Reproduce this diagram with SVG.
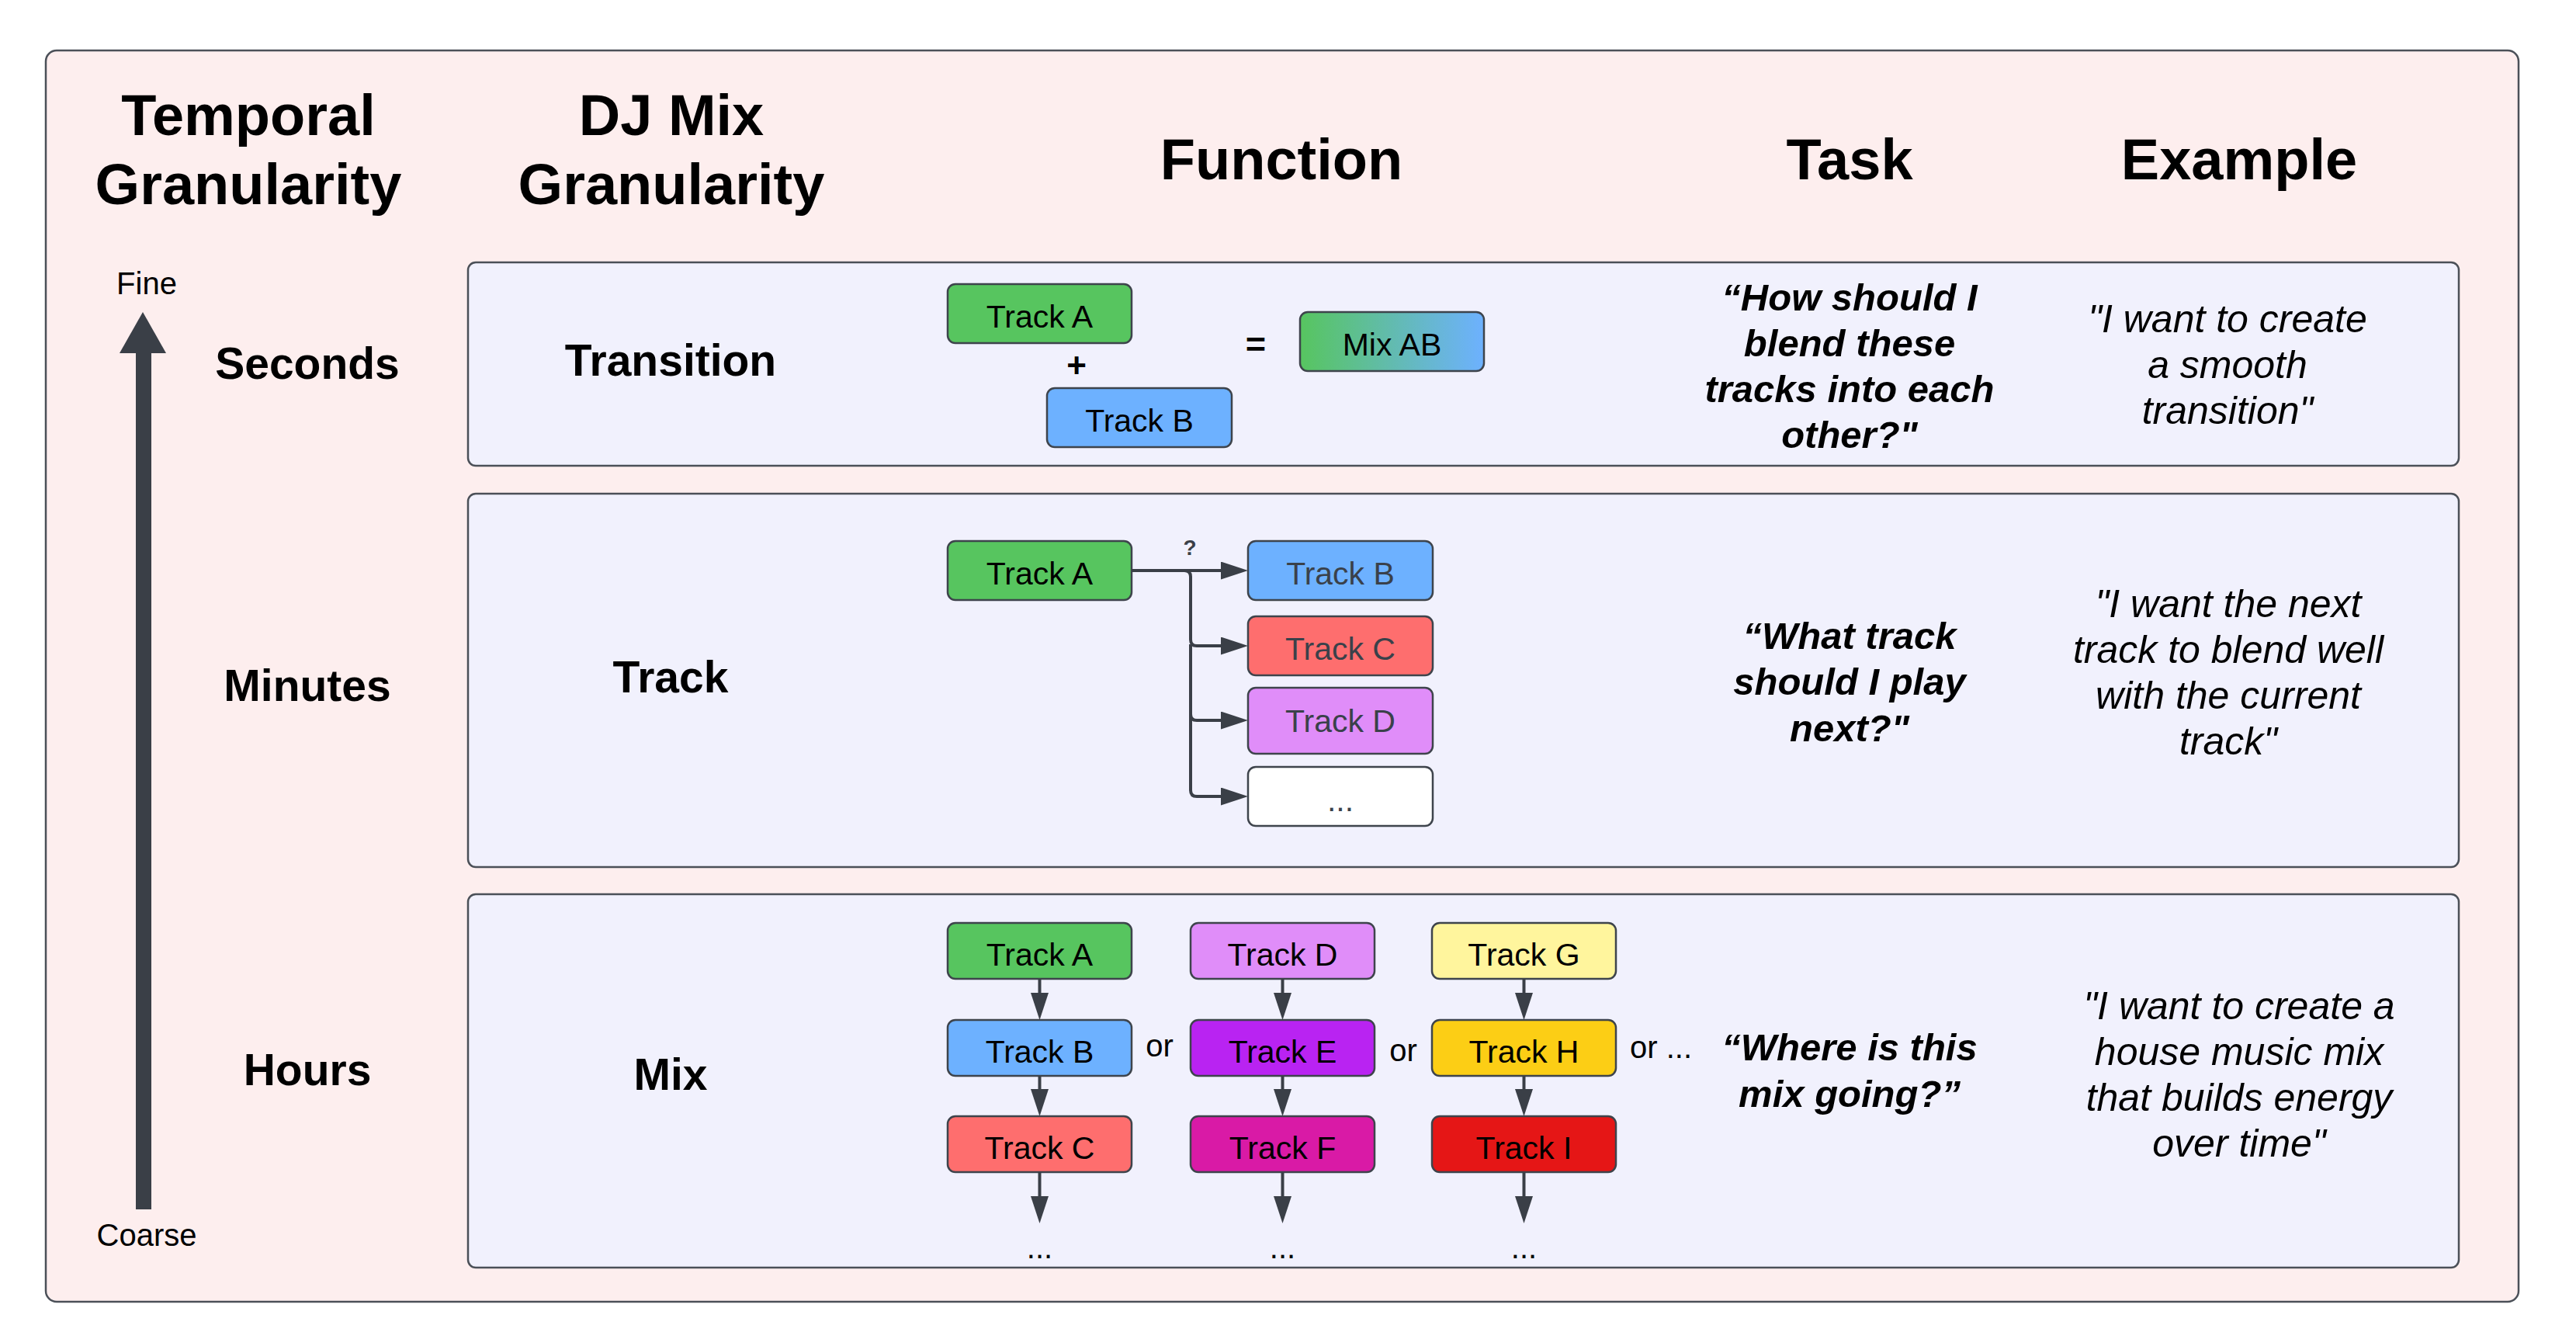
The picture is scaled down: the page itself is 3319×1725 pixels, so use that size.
<svg xmlns="http://www.w3.org/2000/svg" width="3319" height="1725" viewBox="0 0 3319 1725">
<style>
text{font-family:"Liberation Sans",Arial,sans-serif;text-anchor:middle;fill:#000}
.hdr{font-size:74px;font-weight:bold}
.row{font-size:57px;font-weight:bold}
.tk{font-size:41px}
.tkg{font-size:41px;fill:#3a414a}
.task{font-size:49px;font-weight:bold;font-style:italic}
.ex{font-size:50px;font-style:italic}
.small{font-size:40px}
.box{stroke:#3e444c;stroke-width:2.5}
.panel{fill:#f1f1fd;stroke:#4b5058;stroke-width:2.5}
.conn{fill:none;stroke:#3a3f47;stroke-width:4}
</style>
<defs>
<marker id="ah" viewBox="0 0 35 23" refX="0" refY="11.5" markerWidth="35" markerHeight="23" markerUnits="userSpaceOnUse" orient="auto">
<path d="M0,0 L35,11.5 L0,23 z" fill="#3a3f47"/>
</marker>
<linearGradient id="gAB" x1="0" y1="0" x2="1" y2="0">
<stop offset="0" stop-color="#57c55f"/>
<stop offset="1" stop-color="#6db1ff"/>
</linearGradient>
</defs>

<g id="frame">
<rect x="59" y="65" width="3186" height="1612" rx="14" fill="#fdeeee" stroke="#4b5058" stroke-width="2.5"/>
</g>

<g id="headers">
<text class="hdr" x="320" y="174">Temporal</text>
<text class="hdr" x="320" y="263">Granularity</text>
<text class="hdr" x="865" y="174">DJ Mix</text>
<text class="hdr" x="865" y="263">Granularity</text>
<text class="hdr" x="1651" y="231">Function</text>
<text class="hdr" x="2383" y="231">Task</text>
<text class="hdr" x="2885" y="231">Example</text>
</g>

<g id="axis">
<text class="small" x="189" y="379">Fine</text>
<rect x="175" y="450" width="20" height="1108" fill="#3a3f47"/>
<polygon points="184,402 214,455 154,455" fill="#3a3f47"/>
<text class="small" x="189" y="1605">Coarse</text>
<text class="row" x="396" y="488">Seconds</text>
<text class="row" x="396" y="903">Minutes</text>
<text class="row" x="396" y="1398">Hours</text>
</g>

<g id="panel-seconds">
<rect class="panel" x="603" y="338" width="2565" height="262" rx="10"/>
<text class="row" x="864" y="484">Transition</text>
<text class="task" x="2383" y="400">“How should I</text>
<text class="task" x="2383" y="459">blend these</text>
<text class="task" x="2383" y="518">tracks into each</text>
<text class="task" x="2383" y="577">other?"</text>
<text class="ex" x="2870" y="428">"I want to create</text>
<text class="ex" x="2870" y="487">a smooth</text>
<text class="ex" x="2870" y="546">transition"</text>
</g>
<g id="s-trackA"><rect class="box" x="1221" y="366" width="237" height="76" rx="10" fill="#57c55f"/><text class="tk" x="1339.5" y="422">Track A</text></g>
<g id="s-plus"><text x="1387" y="486" style="font-size:44px;font-weight:bold">+</text></g>
<g id="s-trackB"><rect class="box" x="1349" y="500" width="238" height="76" rx="10" fill="#6db1ff"/><text class="tk" x="1468" y="556">Track B</text></g>
<g id="s-eq"><text x="1618" y="459" style="font-size:45px;font-weight:bold">=</text></g>
<g id="s-mixAB"><rect class="box" x="1675" y="402" width="237" height="76" rx="10" fill="url(#gAB)"/><text class="tk" x="1793.5" y="458">Mix AB</text></g>

<g id="panel-minutes">
<rect class="panel" x="603" y="636" width="2565" height="481" rx="10"/>
<text class="row" x="864" y="892">Track</text>
<text class="task" x="2383" y="836">“What track</text>
<text class="task" x="2383" y="895">should I play</text>
<text class="task" x="2383" y="955">next?"</text>
<text class="ex" x="2871" y="795">"I want the next</text>
<text class="ex" x="2871" y="854">track to blend well</text>
<text class="ex" x="2871" y="913">with the current</text>
<text class="ex" x="2871" y="972">track"</text>
</g>
<g id="m-trackA"><rect class="box" x="1221" y="697" width="237" height="76" rx="10" fill="#57c55f"/><text class="tk" x="1339.5" y="753">Track A</text></g>
<g id="m-trackB"><rect class="box" x="1608" y="697" width="238" height="76" rx="10" fill="#6db1ff"/><text class="tkg" x="1727" y="753">Track B</text></g>
<g id="m-trackC"><rect class="box" x="1608" y="794" width="238" height="76" rx="10" fill="#fe6e6e"/><text class="tkg" x="1727" y="850">Track C</text></g>
<g id="m-trackD"><rect class="box" x="1608" y="886" width="238" height="85" rx="10" fill="#e08df9"/><text class="tkg" x="1727" y="943">Track D</text></g>
<g id="m-more"><rect class="box" x="1608" y="988" width="238" height="76" rx="10" fill="#ffffff"/><text class="tkg" x="1727" y="1045">...</text></g>

<g id="panel-hours">
<rect class="panel" x="603" y="1152" width="2565" height="481" rx="10"/>
<text class="row" x="864" y="1404">Mix</text>
<text class="task" x="2383" y="1366">“Where is this</text>
<text class="task" x="2383" y="1426">mix going?”</text>
<text class="ex" x="2885" y="1313">"I want to create a</text>
<text class="ex" x="2885" y="1372">house music mix</text>
<text class="ex" x="2885" y="1431">that builds energy</text>
<text class="ex" x="2885" y="1490">over time"</text>
<text class="small" x="1494" y="1361">or</text>
<text class="small" x="1808" y="1367">or</text>
<text class="small" x="2140" y="1363">or ...</text>
<text class="small" x="1339.5" y="1621">...</text>
<text class="small" x="1652.5" y="1621">...</text>
<text class="small" x="1963.5" y="1621">...</text>
</g>
<g id="h-trackA"><rect class="box" x="1221" y="1189" width="237" height="72" rx="10" fill="#57c55f"/><text class="tk" x="1339.5" y="1244">Track A</text></g>
<g id="h-trackB"><rect class="box" x="1221" y="1314" width="237" height="72" rx="10" fill="#6db1ff"/><text class="tk" x="1339.5" y="1369">Track B</text></g>
<g id="h-trackC"><rect class="box" x="1221" y="1438" width="237" height="72" rx="10" fill="#fe6e6e"/><text class="tk" x="1339.5" y="1493">Track C</text></g>
<g id="h-trackD"><rect class="box" x="1534" y="1189" width="237" height="72" rx="10" fill="#e08df9"/><text class="tk" x="1652.5" y="1244">Track D</text></g>
<g id="h-trackE"><rect class="box" x="1534" y="1314" width="237" height="72" rx="10" fill="#b923f2"/><text class="tk" x="1652.5" y="1369">Track E</text></g>
<g id="h-trackF"><rect class="box" x="1534" y="1438" width="237" height="72" rx="10" fill="#d91aa6"/><text class="tk" x="1652.5" y="1493">Track F</text></g>
<g id="h-trackG"><rect class="box" x="1845" y="1189" width="237" height="72" rx="10" fill="#fff59d"/><text class="tk" x="1963.5" y="1244">Track G</text></g>
<g id="h-trackH"><rect class="box" x="1845" y="1314" width="237" height="72" rx="10" fill="#fcce15"/><text class="tk" x="1963.5" y="1369">Track H</text></g>
<g id="h-trackI"><rect class="box" x="1845" y="1438" width="237" height="72" rx="10" fill="#e51616"/><text class="tk" x="1963.5" y="1493">Track I</text></g>

<g id="connectors">
<path class="conn" d="M1458,735 H1573" marker-end="url(#ah)"/>
<path class="conn" d="M1526,735 Q1534,735 1534,743 V824 Q1534,832 1542,832 H1573" marker-end="url(#ah)"/>
<path class="conn" d="M1534,830 V920 Q1534,928 1542,928 H1573" marker-end="url(#ah)"/>
<path class="conn" d="M1534,920 V1018 Q1534,1026 1542,1026 H1573" marker-end="url(#ah)"/>
<text x="1533" y="715" style="font-size:28px;font-weight:bold;fill:#3a3f47">?</text>
<path class="conn" d="M1339.5,1261 V1279" marker-end="url(#ah)"/>
<path class="conn" d="M1339.5,1386 V1403" marker-end="url(#ah)"/>
<path class="conn" d="M1339.5,1510 V1541" marker-end="url(#ah)"/>
<path class="conn" d="M1652.5,1261 V1279" marker-end="url(#ah)"/>
<path class="conn" d="M1652.5,1386 V1403" marker-end="url(#ah)"/>
<path class="conn" d="M1652.5,1510 V1541" marker-end="url(#ah)"/>
<path class="conn" d="M1963.5,1261 V1279" marker-end="url(#ah)"/>
<path class="conn" d="M1963.5,1386 V1403" marker-end="url(#ah)"/>
<path class="conn" d="M1963.5,1510 V1541" marker-end="url(#ah)"/>
</g>
</svg>
